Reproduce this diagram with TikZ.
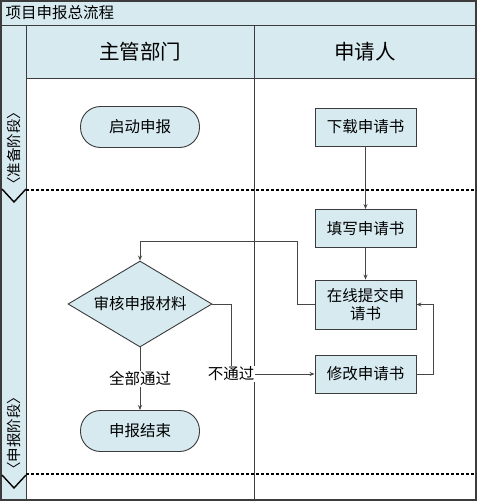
\documentclass[tikz,border=0pt]{standalone}
\usepackage{fontspec}
\setmainfont{Noto Sans CJK SC}
\usetikzlibrary{arrows.meta,shapes.geometric}
\definecolor{lb}{RGB}{214,234,240}
\definecolor{ln}{RGB}{60,60,60}
\definecolor{cn}{RGB}{70,70,70}
\begin{document}
\begin{tikzpicture}[x=1pt,y=-1pt,
  txt/.style={font=\fontsize{15.5}{18}\selectfont},
  box/.style={draw=ln,fill=lb,line width=0.9pt,minimum width=101pt,minimum height=38pt,inner sep=0pt,align=center,txt},
  term/.style={draw=ln,fill=lb,line width=0.9pt,rounded corners=20pt,minimum width=119pt,minimum height=41pt,inner sep=0pt,txt},
  dec/.style={draw=ln,fill=lb,line width=0.9pt,diamond,aspect=1.674,minimum width=144pt,minimum height=86pt,inner sep=0pt,txt},
  arr/.style={draw=cn,line width=0.8pt,-{Stealth[length=5pt,width=4pt]}},
  lab/.style={fill=white,inner sep=1pt,txt},
  sep/.style={line width=1.4pt,dash pattern=on 3pt off 2pt,draw=black}]
\useasboundingbox (0,0) rectangle (478,503);
% frame and bars
\fill[white] (1,1) rectangle (476,500);
\fill[lb] (1,1) rectangle (476,26);
\fill[lb] (26,26) rectangle (476,78);
\fill[lb] (1,26) rectangle (26,500);
\draw[ln,line width=1pt] (1,26) -- (476,26);
\draw[ln,line width=1pt] (26,78) -- (476,78);
\draw[ln,line width=1pt] (26,26) -- (26,500);
\draw[ln,line width=1pt] (254,26) -- (254,500);
\draw[ln,line width=1.2pt] (1,1) rectangle (476,500);
\node[anchor=west,txt] (title) at (2,13) {项目申报总流程};
\node[font=\fontsize{20.5}{24}\selectfont] (h1) at (140,52) {主管部门};
\node[font=\fontsize{20.5}{24}\selectfont] (h2) at (365,52) {申请人};
% phases
\node[rotate=90,font=\fontsize{14.5}{16}\selectfont,inner sep=0pt] (p1) at (14,148) {〈准备阶段〉};
\node[rotate=90,font=\fontsize{14.5}{16}\selectfont,inner sep=0pt] (p2) at (14,433) {〈申报阶段〉};
\draw[black,line width=1.4pt] (2,189) -- (14,202) -- (26,189);
\draw[black,line width=1.4pt] (2,475) -- (14,488) -- (26,475);
\draw[sep] (26,190) -- (476,190);
\draw[sep] (26,474) -- (476,474);
% nodes
\node[term] (qd) at (140,127) {启动申报};
\node[box] (xz) at (365.5,127) {下载申请书};
\node[box] (tx) at (365.5,228.5) {填写申请书};
\node[box,minimum height=49pt] (zx) at (365.5,304.5) {在线提交申\\请书};
\node[box] (xg) at (365.5,374) {修改申请书};
\node[dec] (sh) at (140,304) {审核申报材料};
\node[term] (js) at (140,431) {申报结束};
% connectors
\coordinate (c1) at (297,241);
\coordinate (c2) at (231,304);
\coordinate (c3) at (433,304.5);
\draw[arr] (xz) -- (tx);
\draw[arr] (tx) -- (zx);
\draw[arr] (zx.west) -| (c1) -| (sh.north);
\draw[arr] (sh.east) -- (c2) |- node[lab,pos=0.5]{不通过} (xg.west);
\draw[arr] (xg.east) -| (c3) -- (zx.east);
\draw[arr] (sh.south) -- node[lab]{全部通过} (js.north);
\end{tikzpicture}
\end{document}
